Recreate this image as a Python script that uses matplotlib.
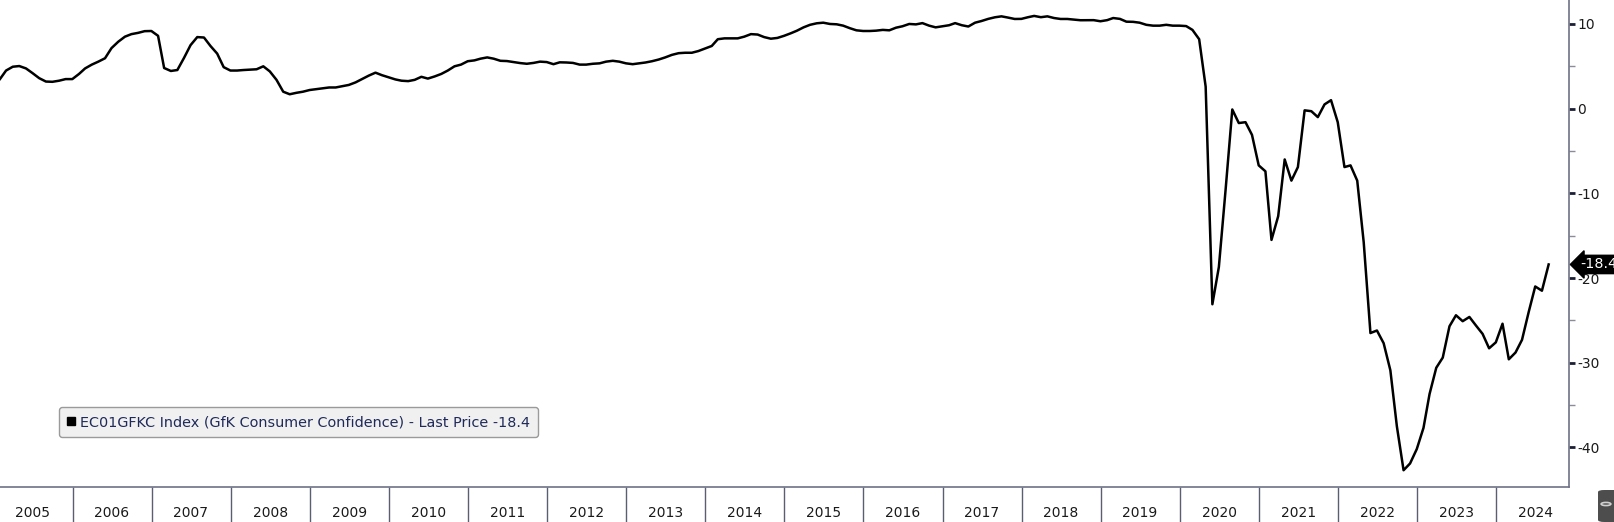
import matplotlib
matplotlib.use('Agg')
import pandas as pd
import matplotlib.pyplot as plt
from matplotlib.lines import Line2D
from matplotlib.patches import FancyBboxPatch, Circle

###############################################################
####   data (monthly, Jan 2005 - Aug 2024)
###############################################################
cc_2005_2009 = [3.5, 4.5, 4.95, 5.03, 4.75, 4.2, 3.6, 3.2, 3.17, 3.3, 3.49, 3.49,
                4.1, 4.75, 5.2, 5.55, 5.95, 7.15, 7.9, 8.5, 8.8, 8.95, 9.15, 9.17,
                8.6, 4.8, 4.45, 4.56, 6.0, 7.5, 8.45, 8.4, 7.4, 6.5, 4.9, 4.5,
                4.5, 4.56, 4.6, 4.65, 5.0, 4.4, 3.4, 2.0, 1.7, 1.87, 2.0, 2.2,
                2.3, 2.4, 2.5, 2.5, 2.65, 2.8, 3.1, 3.5, 3.9, 4.25, 3.95, 3.7]
cc_2010_2014 = [3.45, 3.3, 3.25, 3.4, 3.76, 3.55, 3.8, 4.1, 4.5, 5.0, 5.2, 5.6,
                5.7, 5.9, 6.05, 5.9, 5.65, 5.62, 5.5, 5.38, 5.3, 5.4, 5.55, 5.5,
                5.25, 5.47, 5.45, 5.4, 5.2, 5.2, 5.3, 5.35, 5.55, 5.65, 5.55, 5.35,
                5.25, 5.35, 5.45, 5.6, 5.8, 6.05, 6.35, 6.55, 6.6, 6.6, 6.8, 7.1,
                7.4, 8.2, 8.3, 8.3, 8.3, 8.5, 8.8, 8.75, 8.45, 8.26, 8.35, 8.6]
cc_2015_2019 = [8.9, 9.2, 9.6, 9.9, 10.08, 10.15, 10.0, 9.96, 9.8, 9.5, 9.25, 9.17,
                9.17, 9.21, 9.3, 9.25, 9.56, 9.73, 10.0, 9.95, 10.1, 9.8, 9.6, 9.72,
                9.85, 10.1, 9.85, 9.7, 10.15, 10.35, 10.6, 10.79, 10.9, 10.75, 10.59, 10.6,
                10.8, 10.95, 10.8, 10.9, 10.7, 10.59, 10.59, 10.52, 10.44, 10.45, 10.45, 10.32,
                10.45, 10.7, 10.6, 10.27, 10.25, 10.15, 9.9, 9.8, 9.8, 9.9, 9.8, 9.8]
cc_2020_2024 = [9.75, 9.3, 8.2, 2.6, -23.1, -18.7, -9.6, -0.1, -1.7, -1.6, -3.1, -6.7,
                -7.4, -15.5, -12.7, -6.0, -8.5, -6.9, -0.2, -0.3, -1.0, 0.5, 1.0, -1.6,
                -6.9, -6.7, -8.5, -15.8, -26.5, -26.2, -27.7, -30.9, -37.5, -42.7, -41.9, -40.2,
                -37.7, -33.7, -30.6, -29.4, -25.7, -24.4, -25.1, -24.6, -25.6, -26.6, -28.3, -27.6,
                -25.4, -29.6, -28.8, -27.3, -24.0, -21.0, -21.5, -18.4]

year_labels = list(range(2005, 2025))
y_ticks = [-40, -30, -20, -10, 0, 10]
y_minor = [-35, -25, -15, -5, 5]
legend_text = 'EC01GFKC Index (GfK Consumer Confidence) - Last Price -18.4'
last_price = '-18.4'

values = cc_2005_2009 + cc_2010_2014 + cc_2015_2019 + cc_2020_2024
dates = pd.date_range('2005-01-01', periods=len(values), freq='MS') + pd.offsets.MonthEnd(0)

###############################################################
####   plot
###############################################################
fig = plt.figure(figsize=(16.15, 5.22), dpi=100)
ax = fig.add_axes([0, 35 / 522, 1569 / 1615, 487 / 522])

ax.plot(dates, values, color='black', lw=1.8, solid_joinstyle='round')

for s in ['left', 'top']:
    ax.spines[s].set_visible(False)
for s in ['right', 'bottom']:
    ax.spines[s].set_color('#6e7285')
    ax.spines[s].set_linewidth(1.2)

# y axis on the right
ax.yaxis.tick_right()
ax.set_yticks(y_ticks)
ax.set_yticks(y_minor, minor=True)
ax.set_yticklabels([str(t) for t in y_ticks])
ax.tick_params(axis='y', which='major', length=4, width=2, color='#1c1f33',
               labelsize=10, pad=2, labelcolor='#1a1a1a')
ax.tick_params(axis='y', which='minor', length=4, width=1, color='#8a8d99')

# year separators (major) and centred year labels (minor)
sep = [pd.Timestamp(f'{y}-01-01') for y in year_labels[1:]]
mid = [pd.Timestamp(f'{y}-07-02') for y in year_labels]
ax.set_xticks(sep)
ax.set_xticklabels([''] * len(sep))
ax.set_xticks(mid, minor=True)
ax.set_xticklabels([str(y) for y in year_labels], minor=True)
ax.tick_params(axis='x', which='major', length=25.5, width=1, color='#5a5e70')
ax.tick_params(axis='x', which='minor', length=0, pad=14, labelsize=10, labelcolor='#1a1a1a')

# limits last, so the ticks do not widen them
ax.set_xlim(pd.Timestamp('2005-01-31'), pd.Timestamp('2024-12-03'))
ax.set_ylim(-44.68, 12.83)

# legend box
handle = Line2D([], [], marker='s', color='black', linestyle='none', markersize=6)
leg = ax.legend([handle], [legend_text], loc='lower left', bbox_to_anchor=(0.0376, 0.1027),
                borderaxespad=0, frameon=True, fancybox=True, handlelength=0.6,
                handletextpad=0.3, borderpad=0.55, fontsize=10.4)
leg.get_frame().set_facecolor('#f0f0f0')
leg.get_frame().set_edgecolor('#9a9a9a')
leg.get_frame().set_alpha(1)
for t in leg.get_texts():
    t.set_color('#1f2a5a')

# last price tag
ax.annotate(last_price, xy=(1.0, -18.4), xycoords=('axes fraction', 'data'),
            xytext=(8, 0), textcoords='offset points', ha='left', va='center',
            color='white', fontsize=10.4, annotation_clip=False,
            bbox=dict(boxstyle='larrow,pad=0.15', fc='black', ec='black'))

# little button in the corner
fig.patches.append(FancyBboxPatch((1598 / 1615, 0), 0.03, 32 / 522,
                                  boxstyle='round,pad=0,rounding_size=0.004',
                                  transform=fig.transFigure, fc='#4d4d4d', ec='none'))
fig.patches.append(Circle((1606 / 1615, 18 / 522), 0.003, transform=fig.transFigure,
                          fc='none', ec='#d0d0d0', lw=1.2))

plt.savefig('out.png', dpi=100)
